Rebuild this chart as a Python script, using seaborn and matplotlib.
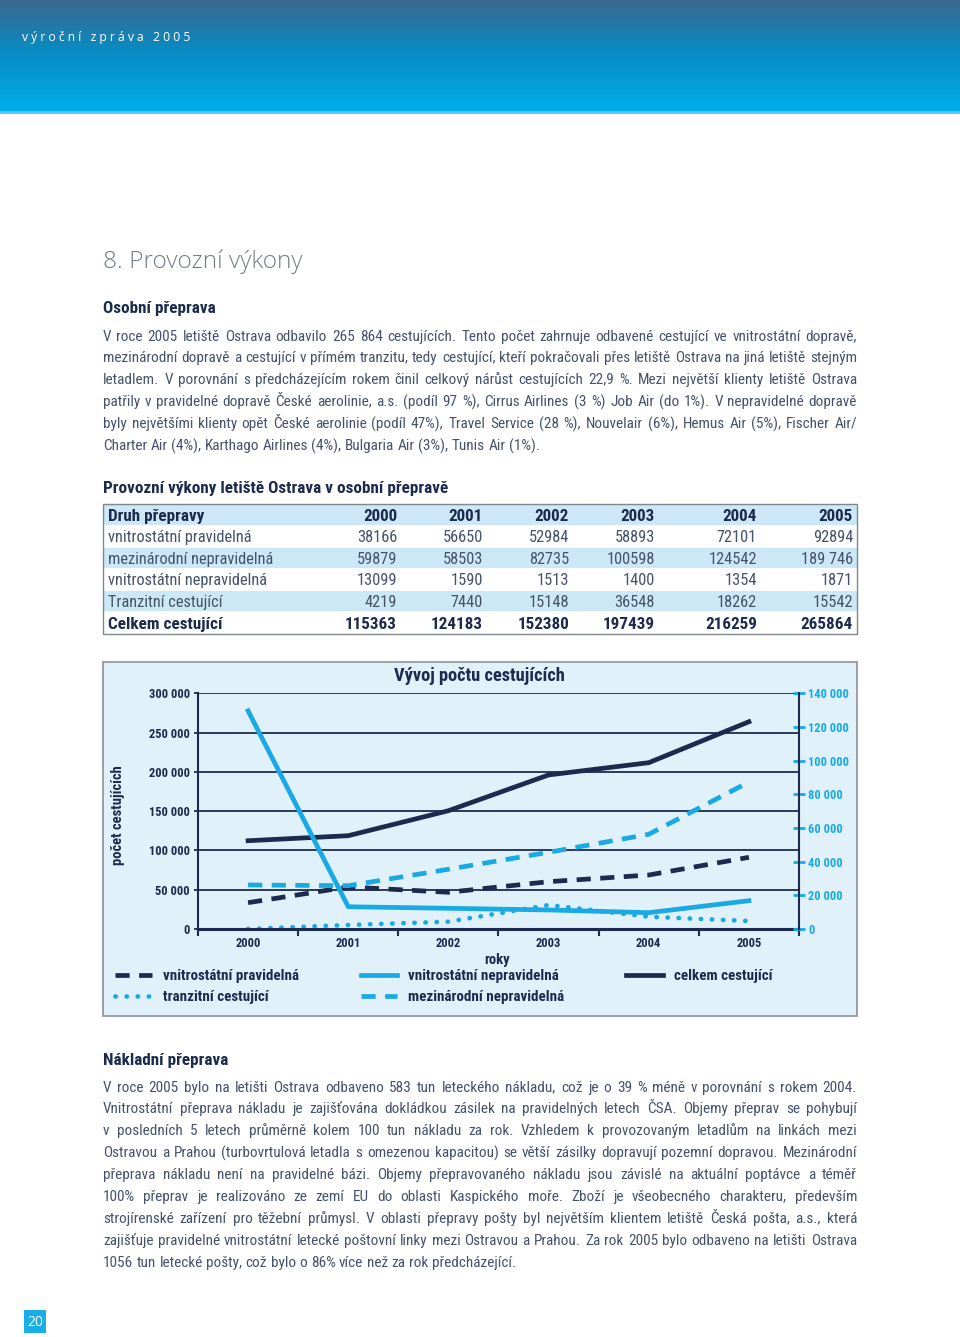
#!/usr/bin/env python3
import math
import numpy as np
import seaborn as sns
import matplotlib.pyplot as plt
from matplotlib import font_manager
from matplotlib.font_manager import FontProperties
from matplotlib.patches import Rectangle
from matplotlib.colors import LinearSegmentedColormap

W, H = 960, 1337

NAVY = '#1c2a4e'
CYAN = '#1aaae3'
TEXT = '#46526b'
GREY = '#737d89'
PANEL = '#e0f1fa'
ROWBLUE = '#cce7f6'

years = [2000, 2001, 2002, 2003, 2004, 2005]

# table data (as printed)
table_first = 'Druh přepravy'
table_rows = ['vnitrostátní pravidelná', 'mezinárodní nepravidelná',
              'vnitrostátní nepravidelná', 'Tranzitní cestující', 'Celkem cestující']
table_values = [
    ['38166', '56650', '52984', '58893', '72101', '92894'],
    ['59879', '58503', '82735', '100598', '124542', '189 746'],
    ['13099', '1590', '1513', '1400', '1354', '1871'],
    ['4219', '7440', '15148', '36548', '18262', '15542'],
    ['115363', '124183', '152380', '197439', '216259', '265864'],
]

# chart series as drawn (left axis, except vnitro_neprav on the right axis)
vnitro_prav = [33500, 53500, 46700, 60200, 68700, 91200]
mezinar_neprav = [56000, 55100, 76000, 97600, 120500, 187000]
celkem = [112300, 118700, 150500, 196000, 211600, 263700]
tranzit = [0, 5100, 9300, 30500, 15600, 10200]
vnitro_neprav = [129500, 13200, 12300, 11300, 9700, 16800]

left_ticks = list(range(0, 300001, 50000))
right_ticks = list(range(0, 140001, 20000))

para1 = [
    "V roce 2005 letiště Ostrava odbavilo 265 864 cestujících. Tento počet zahrnuje odbavené cestující ve vnitrostátní dopravě,",
    "mezinárodní dopravě a cestující v přímém tranzitu, tedy cestující, kteří pokračovali přes letiště Ostrava na jiná letiště stejným",
    "letadlem. V porovnání s předcházejícím rokem činil celkový nárůst cestujících 22,9 %. Mezi největší klienty letiště Ostrava",
    "patřily v pravidelné dopravě České aerolinie, a.s. (podíl 97 %), Cirrus Airlines (3 %) Job Air (do 1%). V nepravidelné dopravě",
    "byly největšími klienty opět České aerolinie (podíl 47%), Travel Service (28 %),  Nouvelair (6%), Hemus Air (5%), Fischer Air/",
    "Charter Air (4%), Karthago Airlines (4%), Bulgaria Air (3%), Tunis Air (1%).",
]
para2 = [
    "V roce 2005 bylo na letišti Ostrava odbaveno 583 tun leteckého nákladu, což je o 39 % méně v porovnání s rokem 2004.",
    "Vnitrostátní přeprava nákladu je zajišťována dokládkou zásilek na pravidelných letech ČSA. Objemy přeprav se pohybují",
    "v posledních 5 letech průměrně kolem 100 tun nákladu za rok. Vzhledem k provozovaným letadlům na linkách mezi",
    "Ostravou a Prahou (turbovrtulová letadla s omezenou kapacitou) se větší zásilky dopravují pozemní dopravou. Mezinárodní",
    "přeprava nákladu není na pravidelné bázi. Objemy přepravovaného nákladu jsou závislé na  aktuální poptávce  a téměř",
    "100% přeprav je realizováno ze zemí  EU  do  oblasti Kaspického moře. Zboží je všeobecného charakteru, především",
    "strojírenské zařízení pro těžební průmysl. V oblasti přepravy pošty byl největším klientem letiště Česká pošta, a.s., která",
    "zajišťuje pravidelné vnitrostátní letecké poštovní linky mezi Ostravou a Prahou. Za rok 2005 bylo odbaveno na letišti Ostrava",
    "1056 tun letecké pošty, což bylo o 86% více než za rok předcházející.",
]

installed = {f.name for f in font_manager.fontManager.ttflist}
BODY = 'Liberation Sans Narrow'
if BODY not in installed:
    BODY = 'Roboto Condensed' if 'Roboto Condensed' in installed else 'Roboto'
K = 1.0 if 'Narrow' in BODY or 'Condensed' in BODY else 0.86
FAM = [BODY, 'DejaVu Sans']
plt.rcParams['font.family'] = FAM

fig = plt.figure(figsize=(W / 100, H / 100), dpi=100)
fig.patch.set_facecolor('white')
bg = fig.add_axes([0, 0, 1, 1], zorder=0)
bg.axis('off')

# header band
cmap = LinearSegmentedColormap.from_list('hdr', [(0, '#3b6890'), (0.45, '#0a8bc3'), (1, '#00adec')])
grad = np.linspace(0, 1, 200)[:, None]
bg.imshow(grad, cmap=cmap, extent=(0, W, 112, 0), aspect='auto', origin='upper')
bg.add_patch(Rectangle((0, 111), W, 3, color='#55c6f2', lw=0))
bg.set_xlim(0, W)
bg.set_ylim(H, 0)
bg.text(22, 37, 'v ý r o č n í   z p r á v a   2 0 0 5', color='white', fontsize=8.7,
        family='Open Sans', va='center')

renderer = fig.canvas.get_renderer()


def width_of(s, size):
    return renderer.get_text_width_height_descent(s, FontProperties(family=FAM, size=size), ismath=False)[0]


def justified(lines, y0, dy, size, x0=103, x1=857):
    # one text per word, spread so that every line but the last fills x0..x1
    prop = FontProperties(family=FAM, size=size)
    space = width_of('x x', size) - width_of('xx', size)
    for i, line in enumerate(lines):
        base = round(y0 + i * dy + 0.5 * size)
        words = line.split()
        metrics = [renderer.get_text_width_height_descent(w, prop, ismath=False) for w in words]
        widths = [m[0] for m in metrics]
        if i == len(lines) - 1:
            gap = space
        else:
            gap = (x1 - x0 - sum(widths)) / (len(words) - 1)
        x = x0
        for w, (wd, h, d) in zip(words, metrics):
            # keep all words of a line on the same pixel baseline
            err = round(base + d) - math.floor(h) + math.floor(h - d) - base
            bg.text(x, base - err, w, fontsize=size, color=TEXT, family=FAM, va='baseline')
            x += wd + gap


widest = max(width_of(l, 12) for l in para1[:-1] + para2[:-1])
body_size = 12 * min(1.0, 748 / widest)

bg.text(103, 262, '8. Provozní výkony', fontsize=17.6, color=GREY, family='Open Sans',
        fontweight='light', va='center')
bg.text(103, 309, 'Osobní přeprava', fontsize=12.3 * K, color=NAVY, fontweight='bold', va='center')
justified(para1, 335, 21.8, body_size)

bg.text(103, 488, 'Provozní výkony letiště Ostrava v osobní přepravě', fontsize=12.3 * K,
        color=NAVY, fontweight='bold', va='center')

# table
top, rh = 504, 21.6
col_right = [397, 483, 569, 655, 757, 853]
n_rows = len(table_rows) + 1
for r in range(n_rows):
    y = top + r * rh
    if r % 2 == 0 and r < n_rows - 1:
        bg.add_patch(Rectangle((103, y + 0.6), 754, rh - 1.2, color=ROWBLUE, lw=0))
    if r == 0:
        label, vals, weight, colr = table_first, [str(v) for v in years], 'bold', NAVY
    else:
        label, vals = table_rows[r - 1], table_values[r - 1]
        weight, colr = ('bold', NAVY) if r == n_rows - 1 else ('normal', TEXT)
    size = 12.3 * K if weight == 'bold' else 11.8 * K
    base = y + rh / 2 + 0.5 * size
    bg.text(108, base, label, fontsize=size, fontweight=weight, color=colr, va='baseline')
    for xr, v in zip(col_right, vals):
        bg.text(xr, base, v, fontsize=size, fontweight=weight, color=colr,
                va='baseline', ha='right')
bg.add_patch(Rectangle((103, top), 754, rh * n_rows, fill=False, ec='#7f8890', lw=1))

# chart panel
bg.add_patch(Rectangle((103, 662), 754, 354, fc=PANEL, ec='#8a9197', lw=1.2))
bg.text(479, 676, 'Vývoj počtu cestujících', fontsize=13.2 * K, fontweight='bold', color=NAVY,
        ha='center', va='center')
bg.text(497, 960, 'roky', fontsize=10.5 * K, fontweight='bold', color=NAVY, ha='center', va='center')
bg.text(118, 815, 'počet cestujících', fontsize=10.5 * K, fontweight='bold', color=NAVY,
        ha='center', va='center', rotation=90)

ax = fig.add_axes([198 / W, 1 - 929 / H, 601 / W, 235.8 / H], zorder=1)
ax.set_facecolor('none')
LW = 3.4
sns.lineplot(x=years, y=vnitro_prav, ax=ax, color=NAVY, lw=LW, linestyle=(0, (3, 2)), legend=False)
h_vp = ax.lines[-1]
sns.lineplot(x=years, y=mezinar_neprav, ax=ax, color=CYAN, lw=LW, linestyle=(0, (3, 2)), legend=False)
h_mn = ax.lines[-1]
sns.lineplot(x=years, y=celkem, ax=ax, color=NAVY, lw=LW, legend=False)
h_cc = ax.lines[-1]
sns.lineplot(x=years, y=tranzit, ax=ax, color=CYAN, lw=LW, linestyle=(0, (0.05, 2.3)), legend=False)
h_tz = ax.lines[-1]
h_tz.set_dash_capstyle('round')

ax.set_xlim(1999.5, 2005.5)
ax.set_ylim(0, 300000)
ax.set_yticks(left_ticks)
ax.set_yticklabels(['{:,}'.format(v).replace(',', ' ') for v in left_ticks],
                   fontsize=9 * K, fontweight='bold', color=NAVY)
ax.set_xticks(np.arange(1999.5, 2006, 1))
ax.set_xticklabels([])
ax.set_xticks(years, minor=True)
ax.set_xticklabels([str(y) for y in years], minor=True, fontsize=9 * K, fontweight='bold', color=NAVY)
ax.tick_params(axis='x', which='major', direction='out', length=5, width=1.5, color=NAVY)
ax.tick_params(axis='x', which='minor', length=0, pad=6)
ax.tick_params(axis='y', direction='out', length=3, width=1.3, color=NAVY, pad=3)
ax.grid(axis='y', color=NAVY, lw=1.3)
ax.grid(axis='x', visible=False)
ax.set_axisbelow(True)
for side in ['top', 'right']:
    ax.spines[side].set_visible(False)
ax.spines['left'].set_color(NAVY)
ax.spines['left'].set_linewidth(1.5)
ax.spines['bottom'].set_color(NAVY)
ax.spines['bottom'].set_linewidth(2.2)
ax.set_xlabel('')
ax.set_ylabel('')

ax2 = ax.twinx()
sns.lineplot(x=years, y=vnitro_neprav, ax=ax2, color=CYAN, lw=LW, legend=False)
h_vn = ax2.lines[-1]
ax2.set_ylim(0, 140000)
ax2.set_yticks(right_ticks)
ax2.set_yticklabels(['{:,}'.format(v).replace(',', ' ') for v in right_ticks],
                    fontsize=9 * K, fontweight='bold', color=CYAN)
ax2.tick_params(axis='y', direction='inout', length=9, width=2, color=CYAN, pad=2)
for side in ['top', 'left', 'bottom']:
    ax2.spines[side].set_visible(False)
ax2.spines['right'].set_color(NAVY)
ax2.spines['right'].set_linewidth(1.5)
ax2.set_ylabel('')

handles = [h_vp, h_tz, h_vn, h_mn, h_cc]
labels = ['vnitrostátní pravidelná', 'tranzitní cestující', 'vnitrostátní nepravidelná',
          'mezinárodní nepravidelná', 'celkem cestující']
fig.legend(handles, labels, ncol=3, loc='upper left', bbox_to_anchor=(115 / W, 1 - 969 / H),
           frameon=False, prop={'family': BODY, 'weight': 'bold', 'size': 10.8 * K},
           labelcolor=NAVY, handlelength=2.45, handletextpad=0.75, columnspacing=4.1,
           labelspacing=0.5, borderpad=0, borderaxespad=0)

bg.text(103, 1060, 'Nákladní přeprava', fontsize=12.3 * K, color=NAVY, fontweight='bold', va='center')
justified(para2, 1086, 21.9, body_size)

bg.add_patch(Rectangle((24, 1310), 22, 23, color='#1aaee8', lw=0))
bg.text(35, 1322, '20', color='white', fontsize=10, family='Open Sans', ha='center', va='center')

fig.savefig('out.png', dpi=100)
